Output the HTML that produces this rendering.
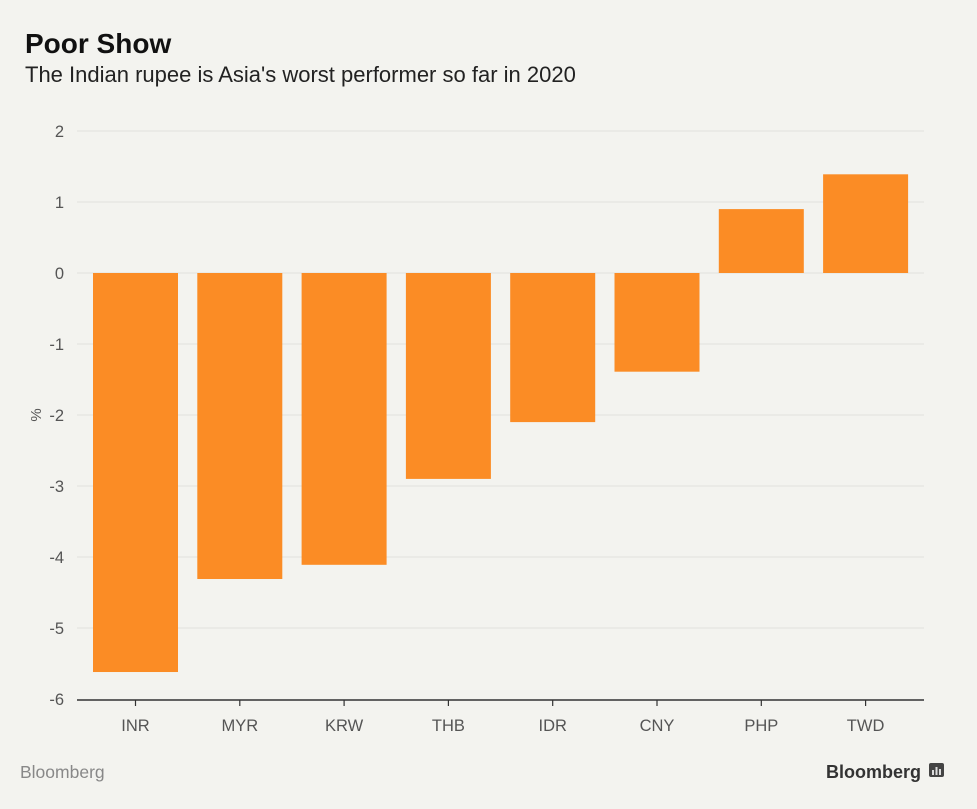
<!DOCTYPE html>
<html><head><meta charset="utf-8"><style>
body{margin:0;background:#f3f3ef;font-family:"Liberation Sans",sans-serif;}
#wrap{position:relative;width:977px;height:809px;overflow:hidden;background:#f3f3ef;}
</style></head><body>
<div id="wrap">
<svg id="chart" width="977" height="809">
<text x="25" y="53" font-size="28" font-weight="bold" fill="#111">Poor Show</text>
<text x="25" y="82" font-size="22" fill="#222">The Indian rupee is Asia's worst performer so far in 2020</text>
<text transform="translate(41,415) rotate(-90)" text-anchor="middle" font-size="15" fill="#555">%</text>
<text x="20" y="778" font-size="17.5" fill="#888">Bloomberg</text>
<text x="921" y="778" text-anchor="end" font-size="18" font-weight="bold" fill="#333">Bloomberg</text>
<g>
<rect x="929" y="763" width="15" height="14" rx="2" fill="#444"/>
<rect x="932" y="770" width="2" height="5" fill="#ddd"/><rect x="935.5" y="767" width="2" height="8" fill="#ddd"/><rect x="939" y="769" width="2" height="6" fill="#ddd"/>
</g>
<g id="grid"></g><g id="bars"></g><g id="axis"></g>
</svg>
</div>
<script>
const categories=["INR","MYR","KRW","THB","IDR","CNY","PHP","TWD"];
const values=[-5.62,-4.31,-4.11,-2.90,-2.10,-1.39,0.90,1.39];
const yTicks=[2,1,0,-1,-2,-3,-4,-5,-6];
const NS="http://www.w3.org/2000/svg";
function y(v){return 273-v*71;}
function x(i){return 135.5+i*104.3;}
function mk(tag,attrs,parent){const e=document.createElementNS(NS,tag);for(const k in attrs)e.setAttribute(k,attrs[k]);parent.appendChild(e);return e;}
const grid=document.getElementById('grid'),bars=document.getElementById('bars'),axis=document.getElementById('axis');
yTicks.forEach(t=>{
  if(t!==-6){const l=mk('line',{x1:77,x2:924,y1:y(t),y2:y(t),stroke:'#e0e0dc','stroke-width':1},grid);
  
  }
  const tx=mk('text',{x:64,y:y(t)+6,'text-anchor':'end','font-size':16.5,fill:'#555'},grid);
  tx.textContent=t;
  
  
});
values.forEach((v,i)=>{
  const top=Math.min(y(v),y(0)),h=Math.abs(y(v)-y(0));
  const r=mk('rect',{x:x(i)-42.5,y:top,width:85,height:h,fill:'#fb8c25'},bars);
  
  
  const tk=mk('line',{x1:x(i),x2:x(i),y1:700,y2:706,stroke:'#333','stroke-width':1.2},axis);
  
  
  const lb=mk('text',{x:x(i),y:731,'text-anchor':'middle','font-size':16.5,fill:'#555'},axis);
  lb.textContent=categories[i];
  
  
});
const ax=mk('line',{x1:77,x2:924,y1:700,y2:700,stroke:'#333','stroke-width':1.5},axis);


</script>
</body></html>
